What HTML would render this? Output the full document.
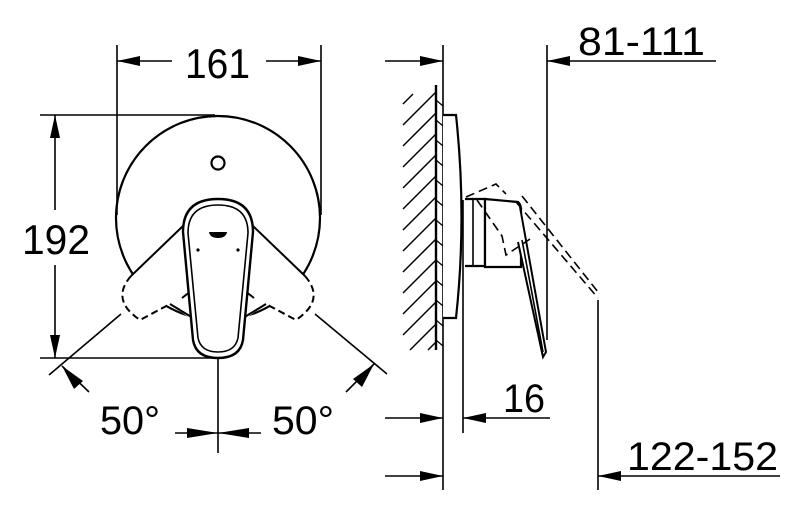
<!DOCTYPE html>
<html><head><meta charset="utf-8"><style>
html,body{margin:0;padding:0;background:#fff;}
svg{display:block;}
text{font-family:"Liberation Sans",sans-serif;fill:#000;}
</style></head><body>
<svg width="800" height="510" viewBox="0 0 800 510" xmlns="http://www.w3.org/2000/svg">
<g stroke="#000" fill="none" stroke-width="1.6">
<!-- 161 dim -->
<line x1="117" y1="45" x2="117" y2="215"/>
<line x1="321" y1="45" x2="321" y2="215"/>
<line x1="117" y1="61" x2="172" y2="61"/>
<line x1="266" y1="61" x2="321" y2="61"/>
<!-- 192 dim -->
<line x1="40" y1="115" x2="215" y2="115"/>
<line x1="40" y1="358" x2="215" y2="358"/>
<line x1="55" y1="115" x2="55" y2="210"/>
<line x1="55" y1="265" x2="55" y2="358"/>
<!-- centerline -->
<line x1="218" y1="358" x2="218" y2="453"/>
<line x1="175" y1="433" x2="261" y2="433"/>
<!-- angle lines -->
<line x1="121" y1="314" x2="49" y2="375"/>
<line x1="315" y1="314" x2="387" y2="374"/>
<line x1="62" y1="366" x2="89" y2="392"/>
<line x1="374" y1="364" x2="346" y2="392"/>
<!-- circle -->
<circle cx="218" cy="218" r="102" stroke-width="2.2"/>
<circle cx="218" cy="163" r="6.5" stroke-width="2.2"/>
</g>
<!-- levers -->
<g stroke="#000" stroke-width="2">
<path d="M186,222 L131,276 Q110,300 140,320 L170,304 L195,322 Z" fill="#fff" stroke="none"/>
<path d="M250,222 L305,276 Q326,300 296,320 L266,304 L241,322 Z" fill="#fff" stroke="none"/>
<path d="M183,226 L131,276" fill="none"/>
<path d="M131,276 Q110,300 140,320 L170,304" fill="none" stroke-dasharray="7,4"/>
<path d="M170,304 L193,318" fill="none"/>
<path d="M182,298 L191,291" fill="none"/>
<path d="M253,226 L305,276" fill="none"/>
<path d="M305,276 Q326,300 296,320 L266,304" fill="none" stroke-dasharray="7,4"/>
<path d="M266,304 L243,318" fill="none"/>
<path d="M254,298 L245,291" fill="none"/>
</g>
<!-- handle -->
<path d="M183,232 Q183,199 218,199 Q253,199 253,232 L243,340 Q240,358 218,358 Q196,358 193,340 Z" fill="#fff" stroke="#000" stroke-width="2.4"/>
<path d="M188,233 Q188,205 218,205 Q248,205 248,233 L238,338 Q235,352 218,352 Q201,352 198,338 Z" fill="none" stroke="#000" stroke-width="1.6"/>
<path d="M209,232 L227,232 Q226,238 218,238 Q210,238 209,232 Z" fill="#000"/>
<circle cx="198" cy="250" r="1.6" fill="#000"/>
<circle cx="238" cy="250" r="1.6" fill="#000"/>
<!-- arrows left -->
<g fill="#000">
<polygon points="117,61 140,56 140,66"/>
<polygon points="321,61 298,56 298,66"/>
<polygon points="55,115 50,138 60,138"/>
<polygon points="55,358 50,335 60,335"/>
<polygon points="218,433 187,428 187,438"/>
<polygon points="218,433 249,428 249,438"/>
<polygon points="62,366 74,389 83,381"/>
<polygon points="374,364 362,387 353,379"/>
</g>
<!-- right view -->
<g stroke="#000" fill="none" stroke-width="1.6">
<line x1="443" y1="45" x2="443" y2="490"/>
<line x1="385" y1="61" x2="443" y2="61"/>
<line x1="385" y1="418" x2="443" y2="418"/>
<line x1="385" y1="476" x2="443" y2="476"/>
<line x1="463" y1="200" x2="463" y2="433"/>
<line x1="463" y1="418" x2="550" y2="418"/>
<line x1="547" y1="45" x2="547" y2="340"/>
<line x1="547" y1="61" x2="716" y2="61"/>
<line x1="598" y1="300" x2="598" y2="490"/>
<line x1="598" y1="476" x2="780" y2="476"/>
<line x1="436" y1="85" x2="436" y2="350" stroke-width="2.4"/>
<g stroke-width="1.5">
<line x1="403" y1="104" x2="413" y2="94"/>
<line x1="403" y1="125" x2="436" y2="92"/>
<line x1="403" y1="146" x2="436" y2="113"/>
<line x1="403" y1="167" x2="436" y2="134"/>
<line x1="403" y1="188" x2="436" y2="155"/>
<line x1="403" y1="209" x2="436" y2="176"/>
<line x1="403" y1="230" x2="436" y2="197"/>
<line x1="403" y1="251" x2="436" y2="218"/>
<line x1="403" y1="272" x2="436" y2="239"/>
<line x1="403" y1="293" x2="436" y2="260"/>
<line x1="403" y1="314" x2="436" y2="281"/>
<line x1="403" y1="335" x2="436" y2="302"/>
<line x1="410" y1="350" x2="436" y2="324"/>
<line x1="428" y1="350" x2="436" y2="342"/>
</g>
<g stroke-width="1.2">
<path d="M436,100 L443,106 M436,120 L443,126 M436,140 L443,146 M436,160 L443,166 M436,180 L443,186 M436,200 L443,206 M436,220 L443,226 M436,240 L443,246 M436,260 L443,266 M436,280 L443,286 M436,300 L443,306 M436,320 L443,326 M436,340 L443,346"/>
</g>
<path d="M443,115 L456,115 Q467,217 456,318 L443,318" stroke-width="2.2" fill="#fff"/>
<path d="M465,199 L485,199 L485,266 L465,266" stroke-width="2.2"/>
<line x1="473" y1="199" x2="473" y2="266"/>
<path d="M485,199 L518,202 Q521,204 521,210 L521,267 L485,267 Z" stroke-width="2.2" fill="#fff"/>
<path d="M520,207 L546,352 L543,357 L518,242" stroke-width="2" fill="#fff"/>
<line x1="522" y1="240" x2="543" y2="352"/>
<g stroke-dasharray="9,5" stroke-width="1.6">
<path d="M466,197 L496,184 L506,194"/>
<path d="M516,202 L598,298"/>
<path d="M522,196 L598,292"/>
<path d="M477,200 L502,236 L506,255 L530,239"/>
</g>
</g>
<g fill="#000">
<polygon points="443,61 420,56 420,66"/>
<polygon points="443,418 420,413 420,423"/>
<polygon points="443,476 420,471 420,481"/>
<polygon points="463,418 486,413 486,423"/>
<polygon points="547,61 570,56 570,66"/>
<polygon points="598,476 621,471 621,481"/>
</g>
<!-- labels -->
<text x="185" y="78" font-size="42" textLength="65" lengthAdjust="spacingAndGlyphs">161</text>
<text x="22" y="254" font-size="42" textLength="68" lengthAdjust="spacingAndGlyphs">192</text>
<text x="100" y="434" font-size="40" textLength="60" lengthAdjust="spacingAndGlyphs">50°</text>
<text x="272" y="434" font-size="40" textLength="62" lengthAdjust="spacingAndGlyphs">50°</text>
<text x="578" y="55" font-size="40" textLength="127" lengthAdjust="spacingAndGlyphs">81-111</text>
<text x="503" y="412" font-size="40" textLength="42" lengthAdjust="spacingAndGlyphs">16</text>
<text x="627" y="470" font-size="40" textLength="151" lengthAdjust="spacingAndGlyphs">122-152</text>
</svg>
</body></html>
